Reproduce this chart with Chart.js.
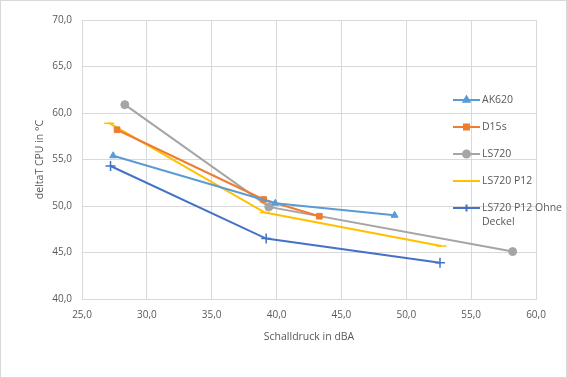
<!DOCTYPE html>
<html>
<head>
<meta charset="utf-8">
<script src="https://cdn.jsdelivr.net/npm/chart.js@4.4.1/dist/chart.umd.min.js"></script>
<style>
  html, body { margin: 0; padding: 0; background: #fff; }
  #wrap { position: relative; width: 567px; height: 378px; box-sizing: border-box; border: 1px solid #d9d9d9; }
  canvas { display: block; }
</style>
</head>
<body>
<div id="wrap"><canvas id="chart" width="565" height="376"></canvas></div>
<script>
// Werte (Schalldruck dBA / deltaT CPU °C)
var serien = ['AK620', 'D15s', 'LS720', 'LS720 P12', 'LS720 P12 Ohne Deckel'];
var ak620X = [27.4, 39.9, 49.1];
var ak620Y = [55.4, 50.3, 49.0];
var d15sX = [27.7, 39.0, 43.3];
var d15sY = [58.2, 50.7, 48.9];
var ls720X = [28.3, 39.4, 58.2];
var ls720Y = [60.9, 49.9, 45.1];
var ls720p12X = [27.1, 39.1, 52.7];
var ls720p12Y = [58.9, 49.3, 45.7];
var ohneDeckelX = [27.2, 39.2, 52.6];
var ohneDeckelY = [54.3, 46.5, 43.9];
var xTicks = [25, 30, 35, 40, 45, 50, 55, 60];
var yTicks = [40, 45, 50, 55, 60, 65, 70];

var farben = ['#5b9bd5', '#ed7d31', '#a5a5a5', '#ffc000', '#4472c4'];
var marker = ['triangle', 'rect', 'circle', 'line', 'cross'];
var xListen = [ak620X, d15sX, ls720X, ls720p12X, ohneDeckelX];
var yListen = [ak620Y, d15sY, ls720Y, ls720p12Y, ohneDeckelY];
var textFarbe = '#595959';
var schrift = '"Open Sans", "Noto Sans", sans-serif';

function punkte(xs, ys) {
  var p = [];
  for (var i = 0; i < xs.length; i++) {
    p.push({ x: xs[i], y: ys[i] });
  }
  return p;
}

var datasets = [];
for (var i = 0; i < serien.length; i++) {
  datasets.push({
    label: serien[i],
    data: punkte(xListen[i], yListen[i]),
    showLine: true,
    borderColor: farben[i],
    backgroundColor: farben[i],
    borderWidth: 2,
    pointStyle: marker[i],
    pointRadius: marker[i] == 'line' || marker[i] == 'cross' ? 5 : 4,
    pointBorderWidth: marker[i] == 'line' || marker[i] == 'cross' ? 1.5 : 1,
    tension: 0
  });
}

function komma(v) {
  return Number(v).toFixed(1).replace('.', ',');
}

// Legende wie in Excel: rechts, ueber der Zeichenflaeche
var excelLegende = {
  id: 'excelLegende',
  afterDraw: function (chart) {
    var ctx = chart.ctx;
    var ca = chart.chartArea;
    var x0 = ca.right - 83;
    var yStart = ca.top + 80;
    var abstand = 27;
    ctx.save();
    ctx.font = '10.5px ' + schrift;
    ctx.textBaseline = 'middle';
    ctx.textAlign = 'left';
    for (var i = 0; i < serien.length; i++) {
      var y = yStart + i * abstand;
      ctx.strokeStyle = farben[i];
      ctx.lineWidth = 2;
      ctx.beginPath();
      ctx.moveTo(x0, y);
      ctx.lineTo(x0 + 27, y);
      ctx.stroke();
      Chart.helpers.drawPoint(ctx, {
        pointStyle: marker[i],
        radius: 3.5,
        rotation: 0,
        borderWidth: 1.5
      }, x0 + 13.5, y);
      ctx.fillStyle = farben[i];
      ctx.strokeStyle = farben[i];
      ctx.fill();
      ctx.fillStyle = textFarbe;
      var text = serien[i];
      if (text == 'LS720 P12 Ohne Deckel') {
        ctx.fillText('LS720 P12 Ohne', x0 + 29, y);
        ctx.fillText('Deckel', x0 + 29, y + 14.5);
      } else {
        ctx.fillText(text, x0 + 29, y);
      }
    }
    ctx.restore();
  }
};

var config = {
  type: 'scatter',
  data: { datasets: datasets },
  options: {
    responsive: false,
    animation: false,
    layout: { padding: { left: 33, top: 19, right: 30, bottom: 34 } },
    plugins: {
      legend: { display: false },
      tooltip: { enabled: false }
    },
    scales: {
      x: {
        type: 'linear',
        min: 25,
        max: 60,
        afterBuildTicks: function (s) { s.ticks = xTicks.map(function (v) { return { value: v }; }); },
        afterFit: function (s) { s.height = 44; },
        grid: { color: '#d9d9d9', drawTicks: false },
        border: { color: '#d9d9d9' },
        ticks: {
          padding: 10,
          color: textFarbe,
          font: { family: schrift, size: 10 },
          callback: komma
        },
        title: {
          display: true,
          text: 'Schalldruck in dBA',
          color: textFarbe,
          font: { family: schrift, size: 10.5 },
          padding: 0
        }
      },
      y: {
        type: 'linear',
        min: 40,
        max: 70,
        afterBuildTicks: function (s) { s.ticks = yTicks.map(function (v) { return { value: v }; }); },
        afterFit: function (s) { s.width = 48; },
        grid: { color: '#d9d9d9', drawTicks: false },
        border: { color: '#d9d9d9' },
        ticks: {
          padding: 10,
          color: textFarbe,
          font: { family: schrift, size: 10 },
          callback: komma
        },
        title: {
          display: true,
          text: 'deltaT CPU in °C',
          color: textFarbe,
          font: { family: schrift, size: 10.5 },
          padding: 0
        }
      }
    }
  },
  plugins: [excelLegende]
};

const ctx = document.getElementById('chart').getContext('2d');
const grafico = new Chart(ctx, config);
</script>
</body>
</html>
